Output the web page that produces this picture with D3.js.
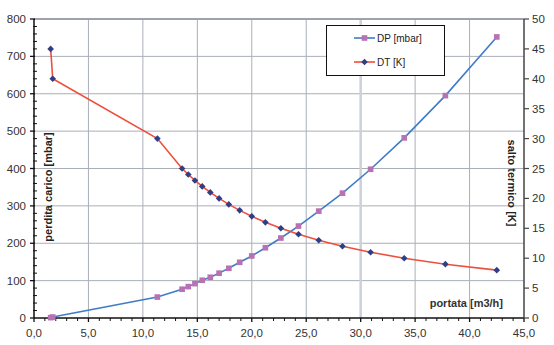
<!DOCTYPE html>
<html>
<head>
<meta charset="utf-8">
<script src="https://cdn.jsdelivr.net/npm/d3@7"></script>
<style>
  html, body { margin: 0; padding: 0; background: #fff; }
  svg { display: block; font-family: "Liberation Sans", Arial, sans-serif; }
</style>
</head>
<body>
<svg id="chart" width="554" height="345"></svg>
<script>
// Portata (m3/h) per ciascun punto di misura
const portata = [1.53, 1.72, 11.33, 13.6, 14.17, 14.78, 15.45, 16.19, 17.0, 17.89, 18.89,
                 20.0, 21.25, 22.67, 24.29, 26.15, 28.33, 30.91, 34.0, 37.78, 42.5];
// Perdita di carico DP [mbar]
const dp = [1, 2.5, 56, 77, 84, 92, 101, 109, 120, 133, 149,
            166, 188, 214, 246, 286, 334, 398, 482, 595, 752];
// Salto termico DT [K]
const dt = [45, 40, 30, 25, 24, 23, 22, 21, 20, 19, 18,
            17, 16, 15, 14, 13, 12, 11, 10, 9, 8];

const xTicks = [0, 5, 10, 15, 20, 25, 30, 35, 40, 45];
const yLeftTicks = [0, 100, 200, 300, 400, 500, 600, 700, 800];
const yRightTicks = [0, 5, 10, 15, 20, 25, 30, 35, 40, 45, 50];

const svg = d3.select("#chart");
const plotL = 34, plotR = 524, plotT = 19, plotB = 318;

const x = d3.scaleLinear().domain([0, 45]).range([plotL, plotR]);
const yL = d3.scaleLinear().domain([0, 800]).range([plotB, plotT]);
const yR = d3.scaleLinear().domain([0, 50]).range([plotB, plotT]);

const comma = v => d3.format(".1f")(v).replace(".", ",");

// grid
const grid = svg.append("g");
grid.selectAll("line.h").data(yLeftTicks.filter(v => v > 0 && v < 800)).join("line")
  .attr("x1", plotL).attr("x2", plotR)
  .attr("y1", d => yL(d)).attr("y2", d => yL(d))
  .attr("stroke", "#a9afb9").attr("stroke-width", 1);
grid.selectAll("line.v").data(xTicks.filter(v => v > 0 && v < 45)).join("line")
  .attr("x1", d => x(d)).attr("x2", d => x(d))
  .attr("y1", plotT).attr("y2", plotB)
  .attr("stroke", d => d === 30 ? "#ccd0d7" : "#a9afb9")
  .attr("stroke-width", d => d === 30 ? 2.5 : 1);
// top border
grid.append("line").attr("x1", plotL).attr("x2", plotR).attr("y1", plotT).attr("y2", plotT)
  .attr("stroke", "#9ea3ab").attr("stroke-width", 2);

// axes
const axisColor = "#111";
// left axis
const gL = svg.append("g");
gL.append("line").attr("x1", plotL).attr("x2", plotL).attr("y1", plotT).attr("y2", plotB)
  .attr("stroke", axisColor).attr("stroke-width", 1.5);
gL.selectAll("line.maj").data(yLeftTicks).join("line")
  .attr("x1", plotL - 4).attr("x2", plotL + 1).attr("y1", d => yL(d)).attr("y2", d => yL(d))
  .attr("stroke", axisColor).attr("stroke-width", 1.3);
gL.selectAll("line.min").data(d3.range(20, 800, 20).filter(v => v % 100 !== 0)).join("line")
  .attr("x1", plotL - 1).attr("x2", plotL + 3).attr("y1", d => yL(d)).attr("y2", d => yL(d))
  .attr("stroke", axisColor).attr("stroke-width", 1);
gL.selectAll("text").data(yLeftTicks).join("text")
  .attr("x", 26).attr("y", d => yL(d) + 4)
  .attr("text-anchor", "end").attr("font-size", 11.5).attr("fill", "#333")
  .text(d => d);

// bottom axis
const gB = svg.append("g");
gB.append("line").attr("x1", plotL).attr("x2", plotR).attr("y1", plotB).attr("y2", plotB)
  .attr("stroke", axisColor).attr("stroke-width", 1.5);
gB.selectAll("line.maj").data(xTicks).join("line")
  .attr("x1", d => x(d)).attr("x2", d => x(d)).attr("y1", plotB).attr("y2", plotB + 4)
  .attr("stroke", axisColor).attr("stroke-width", 1.3);
gB.selectAll("line.min").data(d3.range(1, 45).filter(v => v % 5 !== 0)).join("line")
  .attr("x1", d => x(d)).attr("x2", d => x(d)).attr("y1", plotB).attr("y2", plotB + 3)
  .attr("stroke", axisColor).attr("stroke-width", 1);
gB.selectAll("text").data(xTicks).join("text")
  .attr("x", d => x(d)).attr("y", 337)
  .attr("text-anchor", "middle").attr("font-size", 11.5).attr("fill", "#333")
  .text(d => comma(d));

// right axis
const gR = svg.append("g");
gR.append("line").attr("x1", plotR).attr("x2", plotR).attr("y1", plotT).attr("y2", plotB)
  .attr("stroke", "#444").attr("stroke-width", 1.5);
gR.selectAll("line.maj").data(yRightTicks).join("line")
  .attr("x1", plotR).attr("x2", plotR + 5).attr("y1", d => yR(d)).attr("y2", d => yR(d))
  .attr("stroke", "#444").attr("stroke-width", 1.2);
gR.selectAll("text").data(yRightTicks).join("text")
  .attr("x", 532).attr("y", d => yR(d) + 4)
  .attr("text-anchor", "start").attr("font-size", 11.5).attr("fill", "#333")
  .text(d => d);

// axis titles
svg.append("text")
  .attr("transform", "translate(52,187) rotate(-90)")
  .attr("text-anchor", "middle").attr("font-size", 11).attr("font-weight", "bold").attr("fill", "#222")
  .text("perdita carico [mbar]");
svg.append("text")
  .attr("transform", "translate(508,183) rotate(90)")
  .attr("text-anchor", "middle").attr("font-size", 11).attr("font-weight", "bold").attr("fill", "#222")
  .text("salto termico [K]");
svg.append("text")
  .attr("x", 503).attr("y", 307)
  .attr("text-anchor", "end").attr("font-size", 11).attr("font-weight", "bold").attr("fill", "#333")
  .text("portata [m3/h]");

// series
const dpColor = "#3f7cc6", dpMarker = "#b872b4";
const dtColor = "#ee4f3c", dtMarker = "#2f3f86";

const dpData = portata.map((q, i) => [q, dp[i]]);
const dtData = portata.map((q, i) => [q, dt[i]]);

svg.append("path").datum(dpData)
  .attr("fill", "none").attr("stroke", dpColor).attr("stroke-width", 1.6)
  .attr("d", d3.line().x(d => x(d[0])).y(d => yL(d[1])));
svg.append("path").datum(dtData)
  .attr("fill", "none").attr("stroke", dtColor).attr("stroke-width", 1.6)
  .attr("d", d3.line().x(d => x(d[0])).y(d => yR(d[1])));

const sq = d3.symbol().type(d3.symbolSquare).size(32);
// compact diamond: a square turned by 45 degrees
const dia = d3.symbol().type(d3.symbolSquare).size(22);

svg.append("g").selectAll("path").data(dpData).join("path")
  .attr("transform", d => `translate(${x(d[0])},${yL(d[1])})`)
  .attr("d", sq).attr("fill", dpMarker);
svg.append("g").selectAll("path").data(dtData).join("path")
  .attr("transform", d => `translate(${x(d[0])},${yR(d[1])}) rotate(45)`)
  .attr("d", dia).attr("fill", dtMarker);

// legend
const lg = svg.append("g");
lg.append("rect").attr("x", 326.5).attr("y", 25.5).attr("width", 118).attr("height", 50)
  .attr("fill", "#fff").attr("stroke", "#111").attr("stroke-width", 1);
const legendItems = [
  { label: "DP [mbar]", color: dpColor, marker: dpMarker, sym: sq, rot: 0, y: 38 },
  { label: "DT [K]", color: dtColor, marker: dtMarker, sym: dia, rot: 45, y: 62 }
];
legendItems.forEach(it => {
  lg.append("line").attr("x1", 354).attr("x2", 375).attr("y1", it.y).attr("y2", it.y)
    .attr("stroke", it.color).attr("stroke-width", 1.6);
  lg.append("path").attr("transform", `translate(364.5,${it.y}) rotate(${it.rot})`)
    .attr("d", it.sym).attr("fill", it.marker);
  lg.append("text").attr("x", 377).attr("y", it.y + 3.5)
    .attr("font-size", 10).attr("fill", "#222").text(it.label);
});
</script>
</body>
</html>
